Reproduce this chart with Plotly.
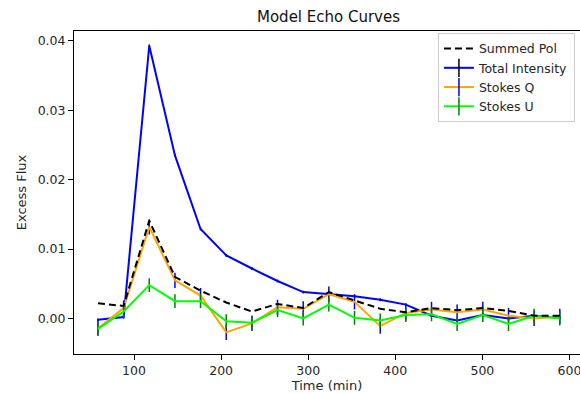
import plotly.graph_objects as go

time_min = [58.6, 88.1, 117.5, 147.0, 176.4, 205.9, 235.4, 264.8, 294.3, 323.7,
            353.2, 382.7, 412.1, 441.6, 471.0, 500.5, 530.0, 559.4, 588.9]

total_intensity = [-0.0002, 0.0002, 0.0393, 0.0235, 0.0129, 0.0091, 0.0072, 0.0054, 0.0038, 0.0035,
                   0.0032, 0.0027, 0.0020, 0.0004, -0.0003, 0.0005, 0.0000, 0.0004, 0.0001]
total_err = [0.0002] * 19

summed_pol = [0.0022, 0.0018, 0.0141, 0.0060, 0.0040, 0.0023, 0.0010, 0.0021, 0.0015, 0.0038,
              0.0026, 0.0014, 0.0009, 0.0015, 0.0012, 0.0015, 0.0011, 0.0004, 0.0004]

stokes_q = [-0.0014, 0.0015, 0.0132, 0.0055, 0.0033, -0.0020, -0.0007, 0.0016, 0.0014, 0.0035,
            0.0024, -0.0011, 0.0008, 0.0013, 0.0009, 0.0013, 0.0004, 0.0000, 0.0003]
q_err = [0.0011] * 19

stokes_u = [-0.0015, 0.0010, 0.0048, 0.0025, 0.0025, -0.0004, -0.0006, 0.0012, 0.0000, 0.0020,
            0.0001, -0.0003, 0.0005, 0.0006, -0.0008, 0.0005, -0.0008, 0.0004, 0.0000]
u_err = [0.0010] * 19

x_ticks = [100, 200, 300, 400, 500, 600]
y_ticks = [0.00, 0.01, 0.02, 0.03, 0.04]

FONT = "DejaVu Sans"
fig = go.Figure()

def add_series(y, err, color, ecolor, name):
    fig.add_trace(go.Scatter(
        x=time_min, y=y, mode="lines", name=name, showlegend=False,
        line=dict(color=color, width=2),
        error_y=dict(type="data", array=err, visible=True, color=ecolor, thickness=1.5, width=0),
    ))

add_series(total_intensity, total_err, "#0000ff", "#000000", "Total Intensity")
add_series(stokes_q, q_err, "#ffa500", "#0000ff", "Stokes Q")
add_series(stokes_u, u_err, "#00ff00", "#008000", "Stokes U")

fig.add_trace(go.Scatter(
    x=time_min, y=summed_pol, mode="lines", name="Summed Pol", showlegend=False,
    line=dict(color="#000000", width=2, dash="7px,4px"),
))

# legend entries
fig.add_trace(go.Scatter(x=[None], y=[None], mode="lines", name="Summed Pol",
                         line=dict(color="#000000", width=2, dash="7px,4px")))
for name, color, ecolor in [("Total Intensity", "#0000ff", "#000000"),
                            ("Stokes Q", "#ffa500", "#0000ff"),
                            ("Stokes U", "#00ff00", "#008000")]:
    fig.add_trace(go.Scatter(x=[None], y=[None], mode="lines+markers", name=name,
                             line=dict(color=color, width=2),
                             marker=dict(symbol="line-ns", size=13,
                                         line=dict(color=ecolor, width=1.5))))

fig.update_layout(
    width=580, height=393,
    margin=dict(l=74, r=0, t=31, b=39),
    paper_bgcolor="white", plot_bgcolor="white",
    font=dict(family=FONT, size=12, color="#262626"),
    title=dict(text="Model Echo Curves", x=0.503, xref="paper", y=1 - 16.6 / 393,
               yanchor="middle", xanchor="center", font=dict(size=15, color="#111")),
    legend=dict(x=0.99, y=0.994, xanchor="right", yanchor="top",
                bordercolor="#cccccc", borderwidth=1, bgcolor="rgba(255,255,255,0.8)",
                font=dict(size=12.5), tracegroupgap=0),
    xaxis=dict(range=[31.1, 612.1], tickvals=x_ticks, ticktext=[str(v) for v in x_ticks],
               showgrid=False, zeroline=False, showline=True, linecolor="black", linewidth=1,
               mirror=True, ticks="outside", ticklen=5, tickcolor="black",
               tickfont=dict(size=12.5), ticklabeloverflow="allow",
               title=dict(text="Time (min)", standoff=2, font=dict(size=13))),
    yaxis=dict(range=[-0.00512, 0.04143], tickvals=y_ticks, ticktext=[f"{v:.2f}" for v in y_ticks],
               showgrid=False, zeroline=False, showline=True, linecolor="black", linewidth=1,
               ticks="outside", ticklen=5, tickcolor="black",
               tickfont=dict(size=12.5),
               title=dict(text="Excess Flux", standoff=8, font=dict(size=13))),
)

fig.write_html("out.html")
